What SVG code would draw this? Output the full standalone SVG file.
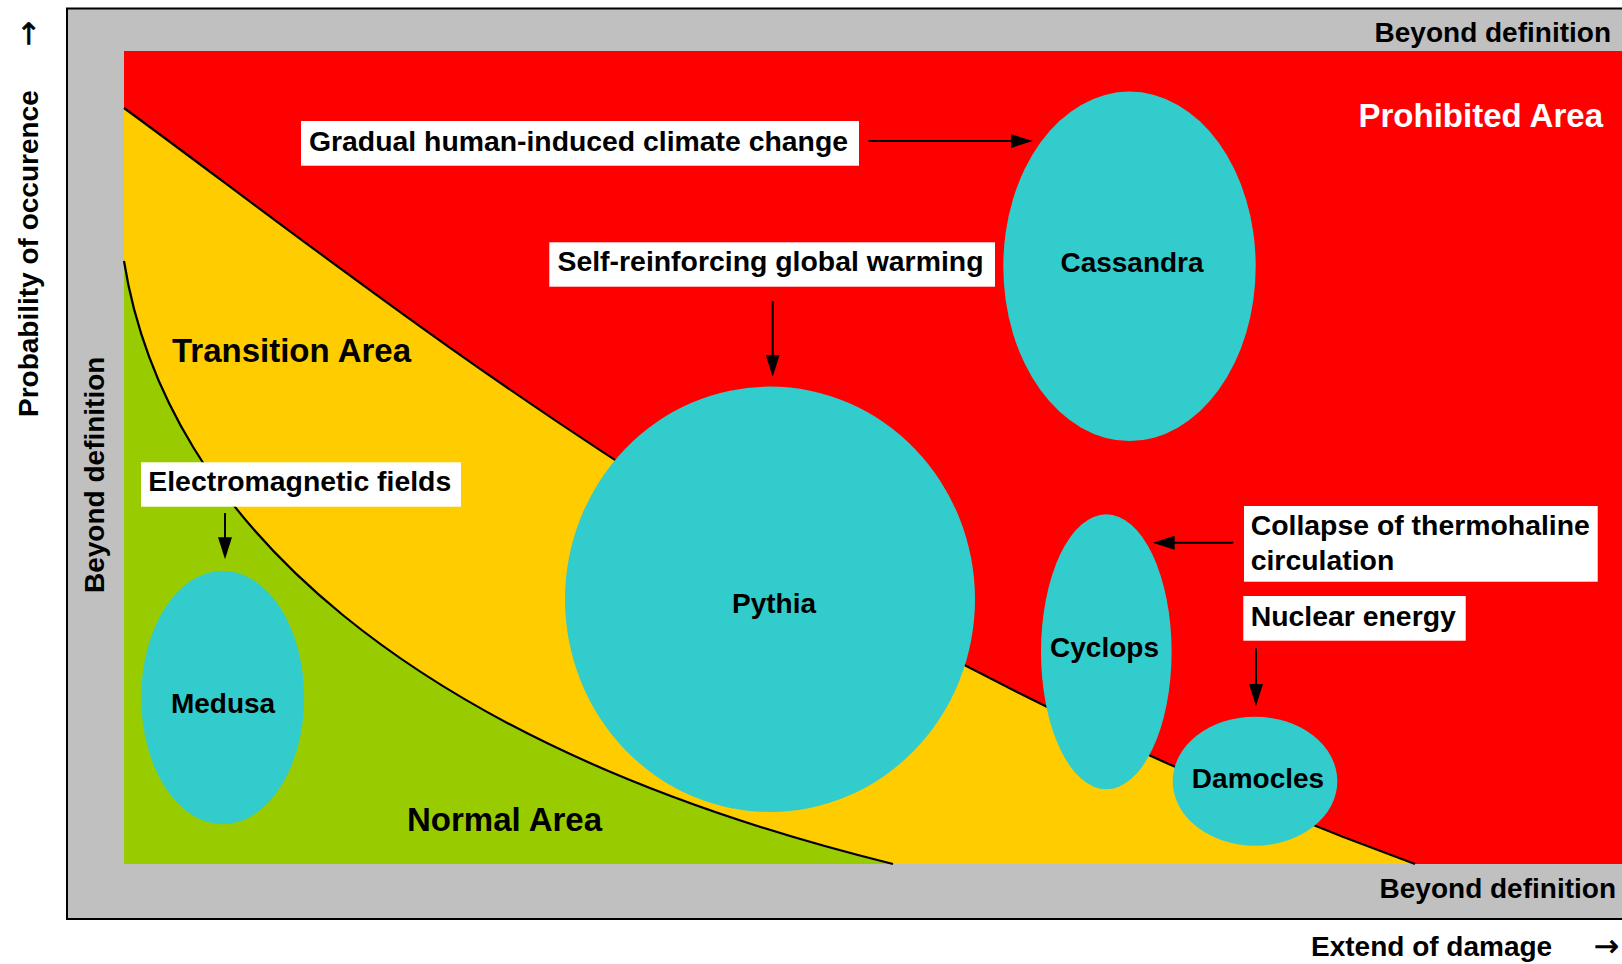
<svg xmlns="http://www.w3.org/2000/svg" width="1622" height="964" viewBox="0 0 1622 964">
  <style>
    text { font-family: "Liberation Sans", Arial, Helvetica, sans-serif; font-weight: bold; fill: #000; }
    .t28 { font-size: 28px; }
    .lbl { font-size: 28.4px; }
    .t33 { font-size: 33px; }
    .mid { text-anchor: middle; }
    .end { text-anchor: end; }
    .arrowglyph { font-family: "DejaVu Sans", sans-serif; font-weight: normal; font-size: 30px; stroke: #000; stroke-width: 0.6; }
    .node { fill: #33CCCC; }
    .box { fill: #FFFFFF; }
    .curve { fill: none; stroke: #000; stroke-width: 2.2; }
    .conn { stroke: #000; stroke-width: 2; fill: none; marker-end: url(#ah); }
  </style>
  <defs>
    <marker id="ah" markerUnits="userSpaceOnUse" markerWidth="24" markerHeight="14" refX="2" refY="7" orient="auto">
      <path d="M0,0 L22,7 L0,14 Z" fill="#000"/>
    </marker>
  </defs>
  <rect width="1622" height="964" fill="#FFFFFF"/>

  <!-- frame -->
  <g id="frame">
    <rect x="67" y="8.5" width="1600" height="910.5" fill="#C0C0C0" stroke="#000" stroke-width="2"/>
    <rect x="124" y="51" width="1498" height="813" fill="#FF0000"/>
    <text class="t28 end" x="1611" y="42">Beyond definition</text>
    <text class="t28 end" x="1616" y="898">Beyond definition</text>
    <text class="t28" transform="translate(104,593) rotate(-90)">Beyond definition</text>
  </g>

  <!-- axes labels -->
  <g id="axes">
    <text class="t28" x="1311" y="956">Extend of damage</text>
    <text class="arrowglyph end" x="1619" y="956">→</text>
    <text class="t28" transform="translate(37.5,417) rotate(-90)">Probability of occurence</text>
    <text class="arrowglyph end" transform="translate(37.5,21) rotate(-90)">→</text>
  </g>

  <!-- areas -->
  <g id="areas">
    <path d="M124,108 C400,310 800,640 1415,864 L124,864 Z" fill="#FFCC00"/>
    <path d="M124,261 C165,520 410,745 893,864 L124,864 Z" fill="#99CC00"/>
    <path class="curve" d="M124,108 C400,310 800,640 1415,864"/>
    <path class="curve" d="M124,261 C165,520 410,745 893,864"/>
    <text class="t33" x="1603" y="127" text-anchor="end" style="fill:#FFFFFF">Prohibited Area</text>
    <text class="t33" x="172" y="362">Transition Area</text>
    <text class="t33" x="407" y="831">Normal Area</text>
  </g>

  <!-- nodes -->
  <g id="cassandra">
    <ellipse class="node" cx="1129.5" cy="266.3" rx="126.2" ry="174.7"/>
    <text class="t28 mid" x="1132" y="271.5">Cassandra</text>
  </g>
  <g id="pythia">
    <ellipse class="node" cx="770" cy="599.3" rx="205" ry="212.7"/>
    <text class="t28 mid" x="774" y="613">Pythia</text>
  </g>
  <g id="medusa">
    <ellipse class="node" cx="222.7" cy="697.5" rx="81.5" ry="126.8"/>
    <text class="t28 mid" x="223" y="713">Medusa</text>
  </g>
  <g id="cyclops">
    <ellipse class="node" cx="1106.3" cy="651.8" rx="65.3" ry="137.5"/>
    <text class="t28 mid" x="1104.5" y="656.5">Cyclops</text>
  </g>
  <g id="damocles">
    <ellipse class="node" cx="1255" cy="781.2" rx="82.3" ry="64.5"/>
    <text class="t28 mid" x="1258" y="788">Damocles</text>
  </g>

  <!-- label boxes -->
  <g id="label-gradual">
    <rect class="box" x="301" y="121" width="558" height="44.7"/>
    <text class="lbl" x="309" y="150.7" textLength="539" lengthAdjust="spacingAndGlyphs">Gradual human-induced climate change</text>
  </g>
  <g id="label-selfreinforcing">
    <rect class="box" x="549.3" y="242.3" width="445.7" height="44.4"/>
    <text class="lbl" x="557.5" y="270.7" textLength="426" lengthAdjust="spacingAndGlyphs">Self-reinforcing global warming</text>
  </g>
  <g id="label-electromagnetic">
    <rect class="box" x="141" y="462.3" width="320" height="44.4"/>
    <text class="lbl" x="148.3" y="490.7">Electromagnetic fields</text>
  </g>
  <g id="label-thermohaline">
    <rect class="box" x="1244" y="506" width="353.7" height="75.7"/>
    <text class="lbl" x="1250.7" y="535">Collapse of thermohaline</text>
    <text class="lbl" x="1250.7" y="570">circulation</text>
  </g>
  <g id="label-nuclear">
    <rect class="box" x="1243.3" y="596" width="222.4" height="44.7"/>
    <text class="lbl" x="1250.7" y="625.7">Nuclear energy</text>
  </g>

  <!-- connectors -->
  <g id="connectors">
    <line class="conn" x1="868.5" y1="141" x2="1012.7" y2="141"/>
    <line class="conn" x1="772.7" y1="301" x2="772.7" y2="356.7"/>
    <line class="conn" x1="225" y1="513" x2="225" y2="539.3"/>
    <line class="conn" x1="1233.3" y1="542.7" x2="1172.7" y2="542.7"/>
    <line class="conn" x1="1256" y1="648.3" x2="1256" y2="686"/>
  </g>
</svg>
